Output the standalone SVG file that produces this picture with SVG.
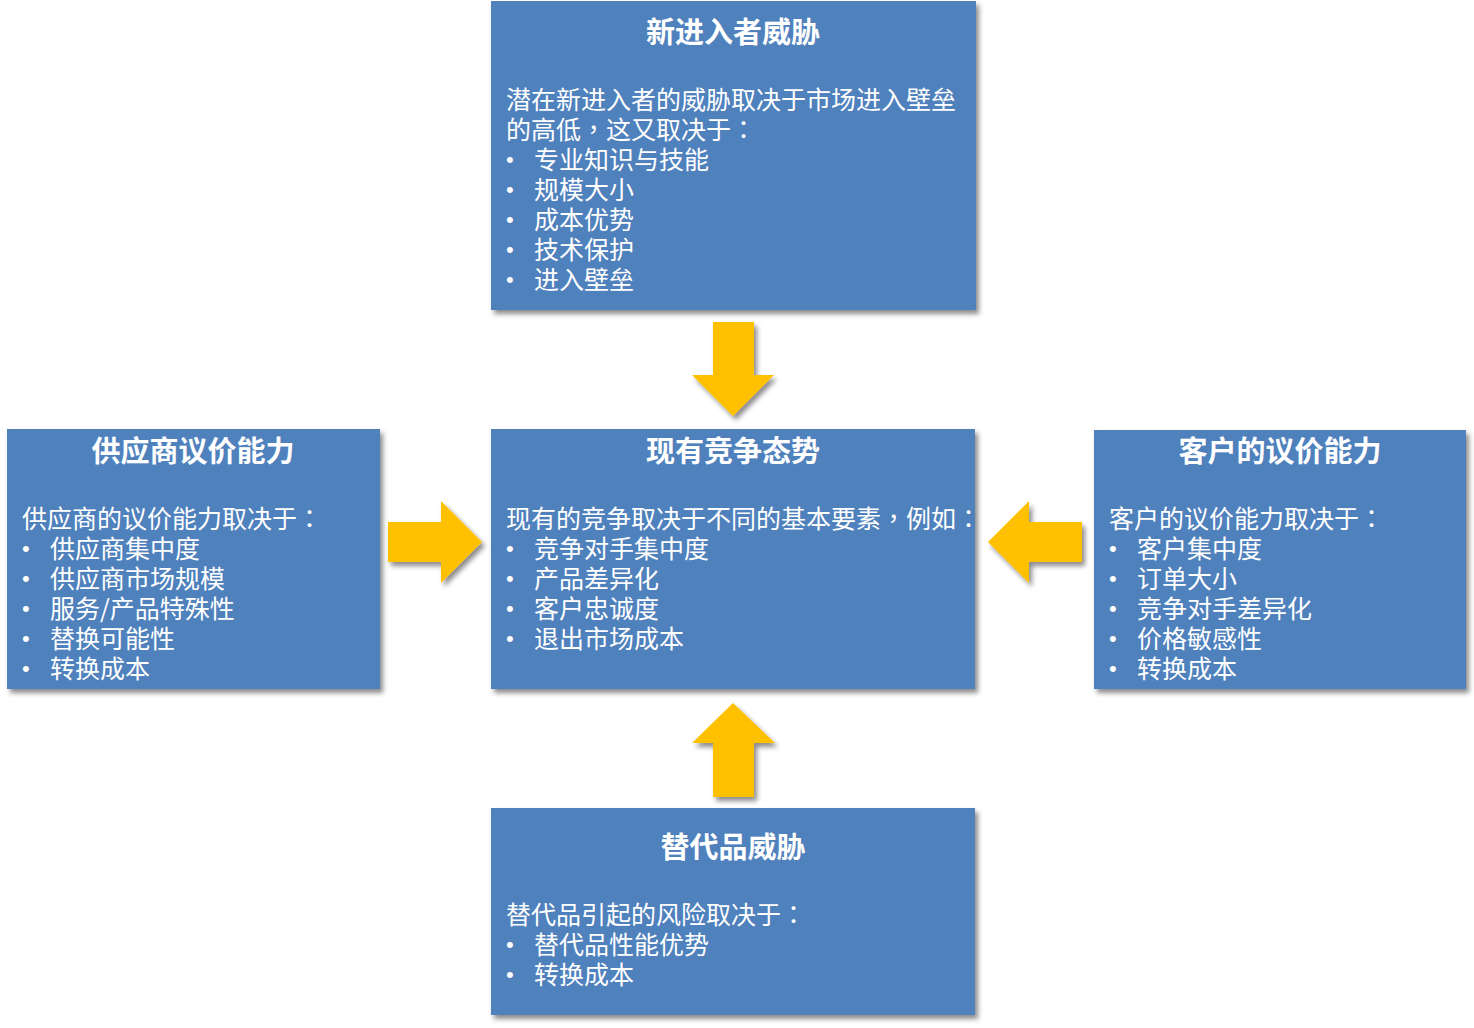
<svg xmlns="http://www.w3.org/2000/svg" width="1474" height="1028" viewBox="0 0 1474 1028">
<defs>
<filter id="sh" x="-5%" y="-5%" width="115%" height="120%">
<feDropShadow dx="3" dy="4" stdDeviation="2.5" flood-color="#000" flood-opacity="0.45"/>
</filter>
<style>
.box{fill:#4F81BD;filter:url(#sh);}
.arr{fill:#FFC000;filter:url(#sh);}
text{fill:#fff;font-family:"Noto Sans CJK SC","Microsoft YaHei",sans-serif;}
.t{font-size:29px;font-weight:bold;text-anchor:middle;}
.b{font-size:25px;}
.d{font-size:22px;font-family:"Liberation Sans",Arial,sans-serif;}
.p{font-family:"Noto Sans CJK TC",sans-serif;}
</style>
</defs>
<rect width="1474" height="1028" fill="#fff"/>
<g id="connectors">
<polygon class="arr" points="713,322 754,322 754,375 774,375 733,416 692,375 713,375"/>
<polygon class="arr" points="713,797 754,797 754,743 775,743 733,703 692,743 713,743"/>
<polygon class="arr" points="388,522 441,522 441,501 482,542 441,583 441,562 388,562"/>
<polygon class="arr" points="1082,522 1029,522 1029,501 988,542 1029,583 1029,562 1082,562"/>
</g>
<g id="node-new">
<rect class="box" x="491" y="1" width="485" height="309"/>
<text class="t" x="733" y="43">新进入者威胁</text>
<text class="b" x="506" y="109">潜在新进入者的威胁取决于市场进入壁垒</text>
<text class="b" x="506" y="139">的高低<tspan class="p">，</tspan>这又取决于<tspan class="p">：</tspan></text>
<text class="d" x="506" y="167">•</text><text class="b" x="534" y="169">专业知识与技能</text>
<text class="d" x="506" y="197">•</text><text class="b" x="534" y="199">规模大小</text>
<text class="d" x="506" y="227">•</text><text class="b" x="534" y="229">成本优势</text>
<text class="d" x="506" y="257">•</text><text class="b" x="534" y="259">技术保护</text>
<text class="d" x="506" y="287">•</text><text class="b" x="534" y="289">进入壁垒</text>
</g>
<g id="node-center">
<rect class="box" x="491" y="429" width="484" height="260"/>
<text class="t" x="733" y="462">现有竞争态势</text>
<text class="b" x="506" y="528">现有的竞争取决于不同的基本要素<tspan class="p">，</tspan>例如<tspan class="p">：</tspan></text>
<text class="d" x="506" y="556">•</text><text class="b" x="534" y="558">竞争对手集中度</text>
<text class="d" x="506" y="586">•</text><text class="b" x="534" y="588">产品差异化</text>
<text class="d" x="506" y="616">•</text><text class="b" x="534" y="618">客户忠诚度</text>
<text class="d" x="506" y="646">•</text><text class="b" x="534" y="648">退出市场成本</text>
</g>
<g id="node-supplier">
<rect class="box" x="7" y="429" width="373" height="260"/>
<text class="t" x="193" y="462">供应商议价能力</text>
<text class="b" x="22" y="528">供应商的议价能力取决于<tspan class="p">：</tspan></text>
<text class="d" x="22" y="556">•</text><text class="b" x="50" y="558">供应商集中度</text>
<text class="d" x="22" y="586">•</text><text class="b" x="50" y="588">供应商市场规模</text>
<text class="d" x="22" y="616">•</text><text class="b" x="50" y="618">服务/产品特殊性</text>
<text class="d" x="22" y="646">•</text><text class="b" x="50" y="648">替换可能性</text>
<text class="d" x="22" y="676">•</text><text class="b" x="50" y="678">转换成本</text>
</g>
<g id="node-customer">
<rect class="box" x="1094" y="430" width="372" height="259"/>
<text class="t" x="1280" y="462">客户的议价能力</text>
<text class="b" x="1109" y="528">客户的议价能力取决于<tspan class="p">：</tspan></text>
<text class="d" x="1109" y="556">•</text><text class="b" x="1137" y="558">客户集中度</text>
<text class="d" x="1109" y="586">•</text><text class="b" x="1137" y="588">订单大小</text>
<text class="d" x="1109" y="616">•</text><text class="b" x="1137" y="618">竞争对手差异化</text>
<text class="d" x="1109" y="646">•</text><text class="b" x="1137" y="648">价格敏感性</text>
<text class="d" x="1109" y="676">•</text><text class="b" x="1137" y="678">转换成本</text>
</g>
<g id="node-substitute">
<rect class="box" x="491" y="808" width="484" height="207"/>
<text class="t" x="733" y="858">替代品威胁</text>
<text class="b" x="506" y="924">替代品引起的风险取决于<tspan class="p">：</tspan></text>
<text class="d" x="506" y="952">•</text><text class="b" x="534" y="954">替代品性能优势</text>
<text class="d" x="506" y="982">•</text><text class="b" x="534" y="984">转换成本</text>
</g>
</svg>
